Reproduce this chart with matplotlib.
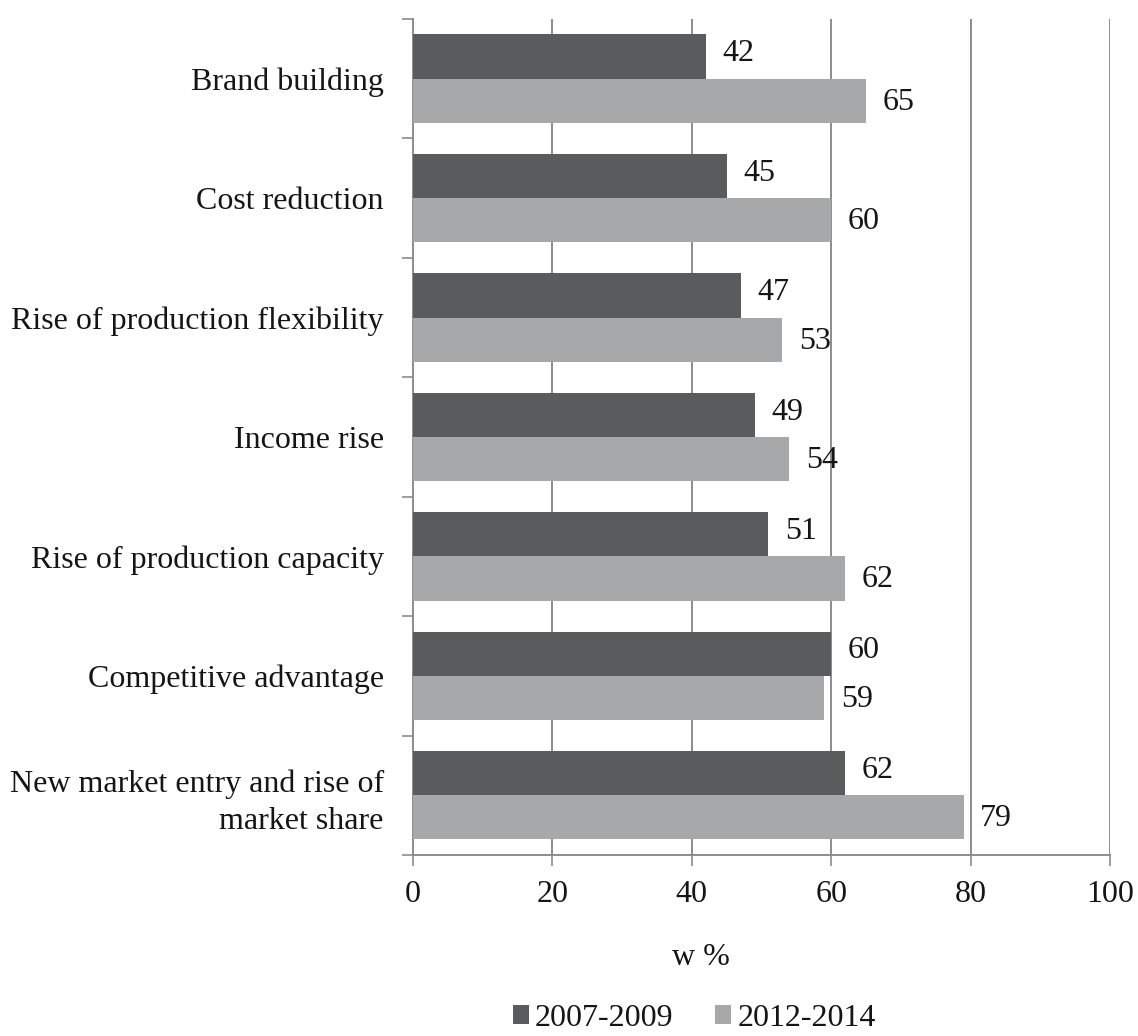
import numpy as np
import matplotlib.pyplot as plt
from matplotlib.ticker import FixedLocator

# Datos
categorias = ['Brand building', 'Cost reduction', 'Rise of production flexibility',
              'Income rise', 'Rise of production capacity', 'Competitive advantage',
              'New market entry and rise of\nmarket share']
valores_2007 = [42, 45, 47, 49, 51, 60, 62]
valores_2012 = [65, 60, 53, 54, 62, 59, 79]
series = ['2007-2009', '2012-2014']
xticks = [0, 20, 40, 60, 80, 100]

plt.rcParams['font.family'] = ['Liberation Serif', 'DejaVu Serif']
plt.rcParams['font.size'] = 23

color_oscuro = '#595c5d'
color_claro = '#a6a8a9'
color_linea = '#8c8c8c'
color_texto = '#151515'

fig = plt.figure(figsize=(11.38, 10.36), dpi=100)
ax = fig.add_axes([0.3629, 0.1747, 0.9754 - 0.3629, 0.9817 - 0.1747])

y = np.arange(len(categorias))
h = 0.37

# Barras
ax.barh(y - h / 2, valores_2007, h, color=color_oscuro, label=series[0], zorder=3)
ax.barh(y + h / 2, valores_2012, h, color=color_claro, label=series[1], zorder=3)

# Etiquetas de valor
for yi, v in zip(y - h / 2, valores_2007):
    ax.annotate(str(v), (v, yi), xytext=(12, 2), textcoords='offset points',
                va='center', ha='left', color=color_texto, fontsize=23)
for yi, v in zip(y + h / 2, valores_2012):
    ax.annotate(str(v), (v, yi), xytext=(12, -1), textcoords='offset points',
                va='center', ha='left', color=color_texto, fontsize=23)

# Ejes
ax.set_xlim(0, 100)
ax.set_ylim(len(categorias) - 0.5, -0.5)
ax.set_xticks(xticks)
ax.set_xticklabels([str(t) for t in xticks])
ax.set_yticks(y)
ax.set_yticklabels(categorias, ha='right', multialignment='right', linespacing=1.35)
ax.yaxis.set_minor_locator(FixedLocator(np.arange(-0.5, len(categorias), 1.0)))

ax.tick_params(axis='y', which='major', length=0, pad=21, colors=color_texto)
ax.tick_params(axis='y', which='minor', length=8, width=1.2, color=color_linea, direction='out')
ax.tick_params(axis='x', which='major', length=8, width=1.2, color=color_linea,
               direction='out', pad=10, labelcolor=color_texto)

for lado in ['top', 'right']:
    ax.spines[lado].set_visible(False)
for lado in ['left', 'bottom']:
    ax.spines[lado].set_color(color_linea)
    ax.spines[lado].set_linewidth(1.4)

# Rejilla vertical
for t in xticks[1:]:
    ax.axvline(t, color=color_linea, linewidth=1.4, zorder=1)

# Título del eje x
fig.text(0.616, 0.076, 'w %', ha='center', va='center', color=color_texto, fontsize=23)

# Leyenda
fig.legend(loc='center', bbox_to_anchor=(0.61, 0.017), ncol=2, frameon=False,
           handlelength=0.5, handleheight=0.5, handletextpad=0.2, columnspacing=1.3,
           fontsize=23, labelcolor=color_texto)

plt.savefig('out.png', dpi=100)
plt.close()
